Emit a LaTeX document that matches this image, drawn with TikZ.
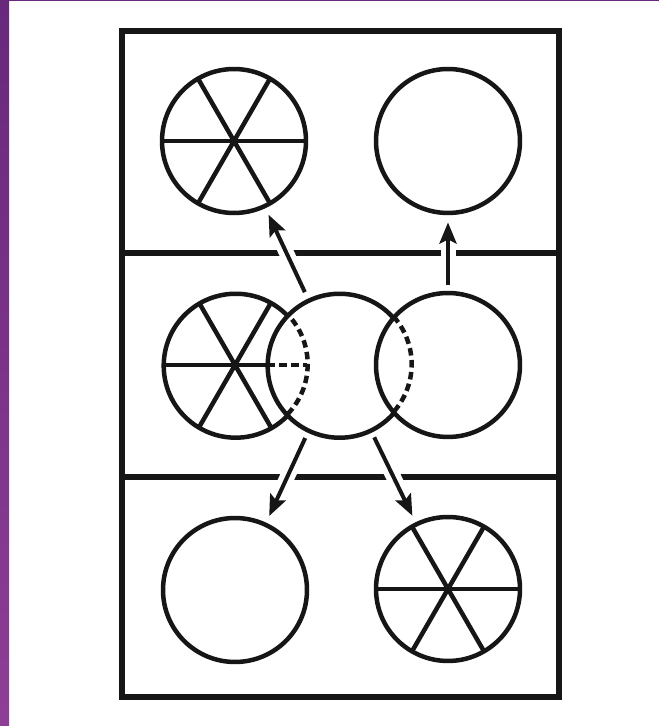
\documentclass[tikz,border=0pt]{standalone}
\usepackage{xcolor}
\usepackage{tikz}
\usetikzlibrary{arrows.meta, calc}
\definecolor{mydark}{RGB}{22,22,22}
\definecolor{mypurple}{RGB}{104,40,124}
\definecolor{mylilac}{RGB}{142,62,150}
\tikzset{
  ring/.style={circle, draw=mydark, minimum size=2.88cm, inner sep=0pt,
    outer sep=0pt, line width=0.09cm},
  ghost/.style={circle, minimum size=2.88cm, inner sep=0pt, outer sep=0pt},
  spoke/.style={line width=0.09cm, color=mydark},
  hidden/.style={line width=0.09cm, color=mydark, dash pattern=on 0.15cm off 0.09cm},
  wall/.style={line width=0.12cm, color=mydark},
  arrow/.style={-{Stealth[length=0.42cm, width=0.34cm, inset=0.08cm]},
    line width=0.08cm, color=mydark, shorten <=0.17cm, shorten >=0.19cm,
    preaction={draw=white, line width=0.3cm, -}}
}

\begin{document}
\begin{tikzpicture}[x=0.02cm, y=0.02cm]
  \useasboundingbox (0,0) rectangle (659,726);
  \fill[white] (0,0) rectangle (659,726);
  \shade[top color=mypurple, bottom color=mylilac] (0,0) rectangle (9,726);
  \fill[mypurple] (0,724.5) rectangle (659,726);

  % Frame and rows
  \draw[wall] (122,29) rectangle (559,694.5);
  \draw[wall] (122,473) -- (559,473);
  \draw[wall] (122,249) -- (559,249);

  % Top row
  \node[ring] (tl) at (234,585) {};
  \node[ring] (tr) at (448,585) {};

  % Middle row (overlapping)
  \node[ghost] (ml) at (235,361) {};
  \node[ghost] (mm) at (339,361) {};
  \node[ring] (mr) at (448,361) {};

  % Bottom row
  \node[ring] (bl) at (235,136) {};
  \node[ring] (br) at (448,137) {};

  % Spokes
  \foreach \a/\b in {0/180,60/240,120/300} {
    \draw[spoke] (tl.\a) -- (tl.\b);
    \draw[spoke] (br.\a) -- (br.\b);
  }
  \draw[spoke] (ml.60) -- (ml.240);
  \draw[spoke] (ml.120) -- (ml.300);
  \draw[spoke] (ml.180) -- (mm.180);
  \draw[hidden] (mm.180) -- (ml.0);

  % Outlines of the overlapping circles
  \draw[spoke] (ml.43.8) arc[start angle=43.8, end angle=316.2, radius=1.44cm];
  \draw[hidden] (ml.-43.8) arc[start angle=-43.8, end angle=43.8, radius=1.44cm];
  \draw[spoke] (mm.40.8) arc[start angle=40.8, end angle=319.2, radius=1.44cm];
  \draw[hidden] (mm.-40.8) arc[start angle=-40.8, end angle=40.8, radius=1.44cm];

  % Arrows
  \draw[arrow] (mm) -- (tl);
  \draw[arrow] (mr) -- (tr);
  \draw[arrow] (mm) -- (bl);
  \draw[arrow] (mm) -- (br);
\end{tikzpicture}
\end{document}
